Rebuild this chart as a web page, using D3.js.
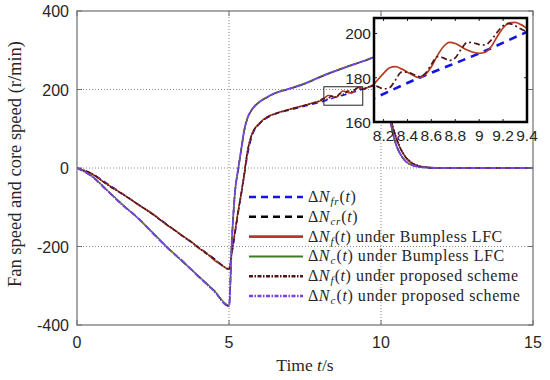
<!DOCTYPE html>
<html><head><meta charset="utf-8">
<script src="https://cdn.jsdelivr.net/npm/d3@7"></script>
<style>
html,body{margin:0;padding:0;background:#fff;}
svg{display:block;}
</style></head>
<body>
<svg id="chart" width="550" height="380"></svg>
<script>
// ---------------- data ----------------
const timeCoarse = [0,0.5,1,1.5,2,2.5,3,3.5,4,4.5,5,5.1,5.2,5.3,5.4,5.5,5.6,5.75,6,6.25,6.5,7,7.5,8,8.5,9,9.5,10,10.1,10.2,10.3,10.4,10.5,10.6,10.8,11,11.25,11.5,12,13,14,15];
const refFan = [0,-15,-40,-66,-92,-118,-146,-175,-202,-230,-258,-215,-165,-115,-68,-20,30,80,112,128,137,148,158,168,180,191,203,213,188,158,130,102,77,57,29,14,5,2,0,0,0,0];
const refCore = [0,-22,-58,-94,-127,-166,-205,-240,-276,-312,-352,-175,-60,-5,45,95,125,148,168,180,190,202,215,232,247,261,274,287,230,172,123,86,59,41,18,8,3,1,0,0,0,0];
const coreBumpless = [0,-21,-57,-93,-128,-165,-204,-241,-275,-311,-350,-178,-58,-3,47,96,124,149,169,181,191,203,216,233,248,262,275,287,229,171,122,85,58,40,18,8,3,1,0,0,0,0];
const coreProposed = [0,-22,-58,-95,-127,-167,-205,-239,-277,-313,-352,-176,-59,-4,46,95,126,148,168,180,190,202,215,232,247,261,274,287,230,172,123,86,59,41,18,8,3,1,0,0,0,0];

const timeFan = [0,0.5,1,1.5,2,2.5,3,3.25,3.5,3.75,4,4.25,4.5,4.75,5,5.1,5.2,5.3,5.4,5.5,5.6,5.75,6,6.25,6.5,7,7.5,7.8,8.0,
  8.1,8.15,8.2,8.25,8.3,8.35,8.4,8.45,8.5,8.55,8.6,8.65,8.7,8.75,8.8,8.85,8.9,8.95,9.0,9.05,9.1,9.15,9.2,9.25,9.3,9.35,9.4,9.45,9.5,
  9.75,10,10.1,10.2,10.3,10.4,10.5,10.6,10.8,11,11.25,11.5,12,13,14,15];
const fanBumpless = [0,-16,-42,-66,-93,-117,-148,-160,-174,-187,-204,-216,-234,-247,-258,-210,-160,-110,-65,-15,40,86,114,130,138,150,160,167,171,
  176,179,182,184.5,185,184,182.5,181,180,181.5,185,190,194,196,195.5,194,192.5,191.5,191,191.5,194,198.5,202.5,204.8,205,204,202.5,202,203,
  212,214,186,156,129,101,76,56,28,13,5,2,0,0,0,0];
const fanProposed = [0,-15,-43,-67,-92,-119,-147,-161,-175,-188,-203,-218,-231,-246,-257,-212,-162,-112,-66,-17,38,85,113,129,138,149,160,166,172,
  177,176,175,175.5,179,182.5,182.5,181.5,180.5,182,186,189.5,189,187.8,189,193,196,195.8,195,194.8,197,200.5,203.5,204.5,203.5,202,201,201.5,204,
  210,214,188,158,130,102,77,57,29,14,5,2,0,0,0,0];

const xTicks = [0,5,10,15];
const yTicks = [-400,-200,0,200,400];
const insetXTicks = [8.2,8.4,8.6,8.8,9,9.2,9.4];
const insetYTicks = [160,180,200];
const xDomain = [0,15], yDomain = [-400,400];
const insetXDomain = [8.12,9.4], insetYDomain = [160,207];

// legend labels: parts [text, italic?, subscript?]
const legendLabels = [
  [["Δ"],["N",1],["fr",1,1],["("],["t",1],[")"]],
  [["Δ"],["N",1],["cr",1,1],["("],["t",1],[")"]],
  [["Δ"],["N",1],["f",1,1],["("],["t",1],[") under Bumpless LFC"]],
  [["Δ"],["N",1],["c",1,1],["("],["t",1],[") under Bumpless LFC"]],
  [["Δ"],["N",1],["f",1,1],["("],["t",1],[") under proposed scheme"]],
  [["Δ"],["N",1],["c",1,1],["("],["t",1],[") under proposed scheme"]]
];

// ---------------- styles ----------------
const series = [
  {t: timeCoarse, v: refFan,      color:"#1414e6", w:1.6, dash:"6,4",       wi:2.6, dashi:"8,6",     ld:"7,5",  lw:2.4},
  {t: timeCoarse, v: refCore,     color:"#000000", w:1.5, dash:"6,4",       wi:2.2, dashi:"8,6",     ld:"7,5",  lw:2.4},
  {t: timeFan,    v: fanBumpless, color:"#b33c1e", w:1.5, dash:null,        wi:1.7, dashi:null,      ld:null,   lw:2.8},
  {t: timeCoarse, v: coreBumpless,color:"#3c7d22", w:1.3, dash:null,        wi:1.6, dashi:null,      ld:null,   lw:2},
  {t: timeFan,    v: fanProposed, color:"#4e1616", w:1.5, dash:"5,1.5,1.5,1.5", wi:1.7, dashi:"6,3,2,3", ld:"4,1.5,1.5,1.5", lw:2.4},
  {t: timeCoarse, v: coreProposed,color:"#7a3fe6", w:1.9, dash:"6,1.2,1.5,1.2", wi:1.7, dashi:"6,3,2,3", ld:"4,1.5,1.5,1.5", lw:2.4}
];

const svg = d3.select("#chart");
const M = {l:77, r:533, t:11, b:325};
const x = d3.scaleLinear().domain(xDomain).range([M.l, M.r]);
const y = d3.scaleLinear().domain(yDomain).range([M.b, M.t]);

const defs = svg.append("defs");
defs.append("clipPath").attr("id","clipMain").append("rect")
  .attr("x",M.l).attr("y",M.t).attr("width",M.r-M.l).attr("height",M.b-M.t);

// grid
const gGrid = svg.append("g");
gGrid.selectAll("line.vx").data(xTicks.filter(d=>d>xDomain[0]&&d<xDomain[1])).enter().append("line")
  .attr("x1",d=>x(d)).attr("x2",d=>x(d)).attr("y1",M.t).attr("y2",M.b)
  .attr("stroke","#8a8a8a").attr("stroke-width",1).attr("stroke-dasharray","1,2");
gGrid.selectAll("line.hy").data(yTicks.filter(d=>d>yDomain[0]&&d<yDomain[1])).enter().append("line")
  .attr("y1",d=>y(d)).attr("y2",d=>y(d)).attr("x1",M.l).attr("x2",M.r)
  .attr("stroke","#8a8a8a").attr("stroke-width",1).attr("stroke-dasharray","1,2");

// main curves
const gMain = svg.append("g").attr("clip-path","url(#clipMain)");
series.forEach(s=>{
  const line = d3.line().x((d,i)=>x(s.t[i])).y(d=>y(d)).curve(d3.curveMonotoneX);
  gMain.append("path").attr("d", line(s.v)).attr("fill","none")
    .attr("stroke", s.color).attr("stroke-width", s.w)
    .attr("stroke-dasharray", s.dash).attr("stroke-linejoin","round");
});

// axes (MATLAB style: box, inward ticks)
const axColor = "#6e6e6e";
const gAx = svg.append("g");
gAx.append("rect").attr("x",M.l).attr("y",M.t).attr("width",M.r-M.l).attr("height",M.b-M.t)
  .attr("fill","none").attr("stroke",axColor).attr("stroke-width",1.2);
const tickFont = "'Liberation Sans', Arial, sans-serif";
xTicks.forEach(d=>{
  gAx.append("line").attr("x1",x(d)).attr("x2",x(d)).attr("y1",M.b).attr("y2",M.b-5).attr("stroke",axColor);
  gAx.append("line").attr("x1",x(d)).attr("x2",x(d)).attr("y1",M.t).attr("y2",M.t+5).attr("stroke",axColor);
  gAx.append("text").attr("x",x(d)).attr("y",M.b+23).attr("text-anchor","middle")
    .attr("font-family",tickFont).attr("font-size",16).attr("fill","#262626").text(d);
});
yTicks.forEach(d=>{
  gAx.append("line").attr("x1",M.l).attr("x2",M.l+5).attr("y1",y(d)).attr("y2",y(d)).attr("stroke",axColor);
  gAx.append("line").attr("x1",M.r).attr("x2",M.r-5).attr("y1",y(d)).attr("y2",y(d)).attr("stroke",axColor);
  gAx.append("text").attr("x",M.l-8).attr("y",y(d)+6).attr("text-anchor","end")
    .attr("font-family",tickFont).attr("font-size",16).attr("fill","#262626").text(d);
});

const serif = "'Liberation Serif', 'Times New Roman', serif";
// axis labels
const xl = svg.append("text").attr("x",(M.l+M.r)/2).attr("y",371).attr("text-anchor","middle")
  .attr("font-family",serif).attr("font-size",17.5).attr("fill","#262626");
xl.append("tspan").text("Time ");
xl.append("tspan").attr("font-style","italic").text("t");
xl.append("tspan").text("/s");
svg.append("text").attr("transform",`translate(21,${(M.t+M.b)/2 - 4}) rotate(-90)`).attr("text-anchor","middle")
  .attr("font-family",serif).attr("font-size",18.5).attr("fill","#262626")
  .text("Fan speed and core speed (r/min)");

// zoom rectangle in main plot
svg.append("rect").attr("x",x(insetXDomain[0])).attr("y",y(insetYDomain[1]))
  .attr("width",x(insetXDomain[1])-x(insetXDomain[0])).attr("height",y(insetYDomain[0])-y(insetYDomain[1]))
  .attr("fill","none").attr("stroke","#222").attr("stroke-width",1);

// legend
const gLeg = svg.append("g");
const legX0 = 249, legX1 = 303, legTextX = 308, legY0 = 197, legDY = 19.8;
legendLabels.forEach((parts,i)=>{
  const s = series[i];
  const yy = legY0 + i*legDY;
  gLeg.append("line").attr("x1",legX0).attr("x2",legX1).attr("y1",yy).attr("y2",yy)
    .attr("stroke",s.color).attr("stroke-width",s.lw).attr("stroke-dasharray", s.ld);
  const tx = gLeg.append("text").attr("x",legTextX).attr("y",yy+5)
    .attr("font-family",serif).attr("font-size",16).attr("letter-spacing",0.55).attr("fill","#262626");
  let sub=false;
  parts.forEach(p=>{
    const ts = tx.append("tspan").text(p[0]);
    if (p[1]) ts.attr("font-style","italic");
    if (p[2]) { ts.attr("font-size",11).attr("dy",3).attr("dx",0.5); sub=true; }
    else if (sub) { ts.attr("dy",-3).attr("dx",0.5); sub=false; }
  });
});

// inset
const I = {l:374, r:527, t:18, b:122};
const xi = d3.scaleLinear().domain(insetXDomain).range([I.l, I.r]);
const yi = d3.scaleLinear().domain(insetYDomain).range([I.b, I.t]);
defs.append("clipPath").attr("id","clipInset").append("rect")
  .attr("x",I.l).attr("y",I.t).attr("width",I.r-I.l).attr("height",I.b-I.t);
svg.append("rect").attr("x",I.l).attr("y",I.t).attr("width",I.r-I.l).attr("height",I.b-I.t).attr("fill","#fff");
const gIn = svg.append("g").attr("clip-path","url(#clipInset)");
series.forEach(s=>{
  const line = d3.line().x((d,i)=>xi(s.t[i])).y(d=>yi(d)).curve(d3.curveMonotoneX);
  gIn.append("path").attr("d", line(s.v)).attr("fill","none")
    .attr("stroke", s.color).attr("stroke-width", s.wi)
    .attr("stroke-dasharray", s.dashi).attr("stroke-linejoin","round");
});
const gInAx = svg.append("g");
insetXTicks.forEach(d=>{
  gInAx.append("line").attr("x1",xi(d)).attr("x2",xi(d)).attr("y1",I.b).attr("y2",I.b-3).attr("stroke","#222");
  gInAx.append("line").attr("x1",xi(d)).attr("x2",xi(d)).attr("y1",I.t).attr("y2",I.t+3).attr("stroke","#222");
  gInAx.append("text").attr("x",xi(d)).attr("y",I.b+19).attr("text-anchor","middle")
    .attr("font-family",tickFont).attr("font-size",15.5).attr("fill","#262626").text(d);
});
insetYTicks.forEach(d=>{
  gInAx.append("line").attr("x1",I.l).attr("x2",I.l+3).attr("y1",yi(d)).attr("y2",yi(d)).attr("stroke","#222");
  gInAx.append("line").attr("x1",I.r).attr("x2",I.r-3).attr("y1",yi(d)).attr("y2",yi(d)).attr("stroke","#222");
  gInAx.append("text").attr("x",I.l-3).attr("y",yi(d)+6).attr("text-anchor","end")
    .attr("font-family",tickFont).attr("font-size",15.5).attr("fill","#262626").text(d);
});
gInAx.append("rect").attr("x",I.l).attr("y",I.t).attr("width",I.r-I.l).attr("height",I.b-I.t)
  .attr("fill","none").attr("stroke","#000").attr("stroke-width",2.5);
</script>
</body></html>
